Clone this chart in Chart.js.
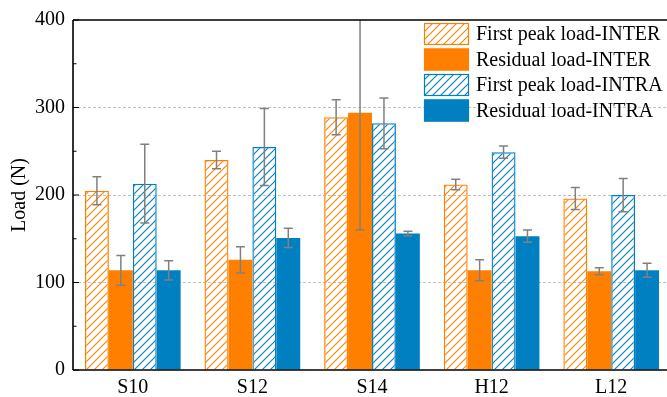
<!DOCTYPE html>
<html>
<head>
<meta charset="utf-8">
<script src="https://cdn.jsdelivr.net/npm/chart.js@4.4.0/dist/chart.umd.min.js"></script>
<style>
html,body{margin:0;padding:0;background:#fff;overflow:hidden;width:667px;height:397px;}
#wrap{width:671px;height:397px;position:relative;}
</style>
</head>
<body>
<div id="wrap"><canvas id="c" width="671" height="397"></canvas></div>
<script>
const categories = ['S10', 'S12', 'S14', 'H12', 'L12'];
const seriesNames = ['First peak load-INTER', 'Residual load-INTER', 'First peak load-INTRA', 'Residual load-INTRA'];
const interPeak = [205, 240, 289, 212, 196];
const interPeakErr = [16, 10, 20, 6, 12.5];
const interRes = [114, 126, 294, 114, 113];
const interResErr = [17, 15, 134, 12, 4];
const intraPeak = [213, 255, 282, 249, 200];
const intraPeakErr = [45, 44, 29, 7, 19];
const intraRes = [114, 151, 156, 153, 114];
const intraResErr = [11, 11, 2.5, 7, 8];
const yTicks = [0, 100, 200, 300, 400];

const ORANGE = '#FF8000';
const BLUE = '#0080C0';
const FONT = '"Liberation Serif", "Times New Roman", serif';

function hatch(color) {
  const s = 8;
  const pc = document.createElement('canvas');
  pc.width = s; pc.height = s;
  const g = pc.getContext('2d');
  g.strokeStyle = color;
  g.lineWidth = 1.1;
  g.beginPath();
  g.moveTo(0, s); g.lineTo(s, 0);
  g.moveTo(-s/2, s/2); g.lineTo(s/2, -s/2);
  g.moveTo(s/2, s*1.5); g.lineTo(s*1.5, s/2);
  g.stroke();
  return g.createPattern(pc, 'repeat');
}
const ctx0 = document.getElementById('c').getContext('2d');
const orangeHatch = hatch(ORANGE);
const blueHatch = hatch(BLUE);

const errs = [interPeakErr, interResErr, intraPeakErr, intraResErr];

const extras = {
  id: 'extras',
  afterDatasetsDraw(chart) {
    const ctx = chart.ctx;
    const ys = chart.scales.y;
    const a = chart.chartArea;
    ctx.save();
    ctx.beginPath();
    ctx.rect(a.left, a.top, a.right - a.left, a.bottom - a.top);
    ctx.clip();
    ctx.strokeStyle = '#808080';
    ctx.lineWidth = 1.5;
    chart.data.datasets.forEach((ds, di) => {
      const meta = chart.getDatasetMeta(di);
      meta.data.forEach((bar, i) => {
        const v = ds.data[i], e = errs[di][i];
        const x = bar.x;
        const yt = ys.getPixelForValue(v + e);
        const yb = ys.getPixelForValue(v - e);
        ctx.beginPath();
        ctx.moveTo(x, yt); ctx.lineTo(x, yb);
        ctx.moveTo(x - 4.5, yt); ctx.lineTo(x + 4.5, yt);
        ctx.moveTo(x - 4.5, yb); ctx.lineTo(x + 4.5, yb);
        ctx.stroke();
      });
    });
    ctx.restore();
  },
  afterDraw(chart) {
    const ctx = chart.ctx;
    const ys = chart.scales.y;
    const a = chart.chartArea;
    ctx.save();
    ctx.strokeStyle = '#000';
    ctx.lineWidth = 1.6;
    ctx.beginPath();
    ctx.moveTo(a.left, a.top); ctx.lineTo(a.right, a.top);
    ctx.moveTo(a.left, a.top); ctx.lineTo(a.left, a.bottom);
    ctx.moveTo(a.left, a.bottom); ctx.lineTo(a.right, a.bottom);
    ctx.stroke();
    ctx.lineWidth = 1.2;
    ctx.beginPath();
    for (let v = 0; v <= 400; v += 50) {
      const y = ys.getPixelForValue(v);
      const len = (v % 100 === 0) ? 6 : 3.5;
      ctx.moveTo(a.left, y); ctx.lineTo(a.left + len, y);
    }
    ctx.stroke();
    const fills = [orangeHatch, ORANGE, blueHatch, BLUE];
    const borders = [ORANGE, ORANGE, BLUE, BLUE];
    const bx = 424, bw = 45, bh = 22, by0 = 23, step = 25.5;
    ctx.font = '20px ' + FONT;
    ctx.textBaseline = 'middle';
    ctx.textAlign = 'left';
    seriesNames.forEach((name, i) => {
      const y = by0 + i * step;
      ctx.fillStyle = '#fff';
      ctx.fillRect(bx, y, bw, bh);
      ctx.fillStyle = fills[i];
      ctx.fillRect(bx, y, bw, bh);
      ctx.strokeStyle = borders[i];
      ctx.lineWidth = 1.2;
      ctx.strokeRect(bx + 0.5, y + 0.5, bw - 1, bh - 1);
      ctx.fillStyle = '#000';
      ctx.fillText(name, 476, y + bh / 2 + 1);
    });
    ctx.restore();
  }
};

new Chart(ctx0, {
  type: 'bar',
  data: {
    labels: categories,
    datasets: [
      { label: seriesNames[0], data: interPeak, backgroundColor: orangeHatch, borderColor: ORANGE, borderWidth: 1.3 },
      { label: seriesNames[1], data: interRes, backgroundColor: ORANGE, borderColor: ORANGE, borderWidth: 0 },
      { label: seriesNames[2], data: intraPeak, backgroundColor: blueHatch, borderColor: BLUE, borderWidth: 1.3 },
      { label: seriesNames[3], data: intraRes, backgroundColor: BLUE, borderColor: BLUE, borderWidth: 0 }
    ]
  },
  options: {
    responsive: false,
    animation: false,
    devicePixelRatio: 1,
    layout: { padding: { top: 18, right: 0, left: 0, bottom: 0 } },
    datasets: { bar: { categoryPercentage: 0.8, barPercentage: 1.0 } },
    plugins: { legend: { display: false }, tooltip: { enabled: false } },
    scales: {
      x: {
        offset: true,
        grid: { display: false, drawTicks: false },
        border: { display: false },
        ticks: { color: '#000', font: { family: FONT, size: 20 }, padding: 6 },
        afterFit(s) { s.height = 27; }
      },
      y: {
        min: 0, max: 400,
        afterBuildTicks(s) { s.ticks = yTicks.map(v => ({ value: v })); },
        grid: {
          drawTicks: false,
          color: c => (c.tick && (c.tick.value === 0 || c.tick.value === 400)) ? 'rgba(0,0,0,0)' : '#C0C0C0',
          lineWidth: 1
        },
        border: { display: false, dash: [3, 2] },
        ticks: { color: '#000', font: { family: FONT, size: 20 }, padding: 8 },
        title: { display: true, text: 'Load (N)', color: '#000', font: { family: FONT, size: 20 }, padding: { top: 8, bottom: 0 } },
        afterFit(s) { s.width = 73; }
      }
    }
  },
  plugins: [extras]
});
</script>
</body>
</html>
